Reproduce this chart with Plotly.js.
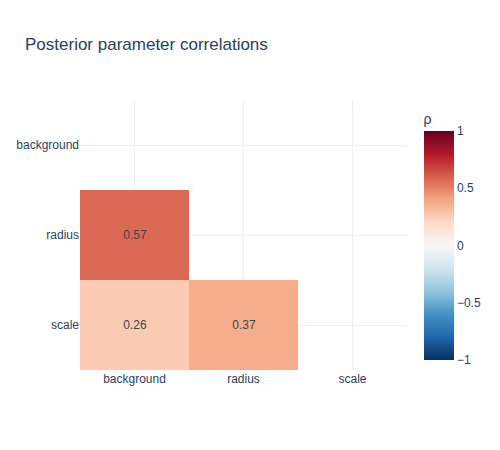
<!DOCTYPE html>
<html><head><meta charset="utf-8">
<script src="https://cdn.plot.ly/plotly-3.0.1.min.js"></script>
<style>body{margin:0;}</style>
</head><body>
<div id="chart" style="width:500px;height:450px;"></div>
<script>
const params = ["background", "radius", "scale"];
const corrBackground = [null, null, null];
const corrRadius = [0.57, null, null];
const corrScale = [0.26, 0.37, null];
const colorTickVals = [-1, -0.5, 0, 0.5, 1];
const colorTickText = ["\u22121", "\u22120.5", "0", "0.5", "1"];

const rdbu = ["rgb(5,48,97)","rgb(33,102,172)","rgb(67,147,195)","rgb(146,197,222)","rgb(209,229,240)","rgb(247,247,247)","rgb(253,219,199)","rgb(244,165,130)","rgb(214,96,77)","rgb(178,24,43)","rgb(103,0,31)"];
const colorscale = rdbu.map((c, i) => [i / (rdbu.length - 1), c]);

const trace = {
  type: "heatmap",
  x: params,
  y: params,
  z: [corrBackground, corrRadius, corrScale],
  zmin: -1, zmax: 1,
  colorscale: colorscale,
  texttemplate: "%{z:.2f}",
  textfont: {color: "#444", size: 12},
  hoverongaps: false,
  colorbar: {
    title: {text: "\u03c1"},
    tickvals: colorTickVals,
    ticktext: colorTickText,
    outlinewidth: 0,
    thickness: 30,
    len: 1
  }
};

const layout = {
  width: 500, height: 450,
  title: {text: "Posterior parameter correlations", x: 0.05, font: {size: 17, color: "#2a3f5f"}},
  font: {family: "'Liberation Sans', Arial, sans-serif", size: 12, color: "#2a3f5f"},
  paper_bgcolor: "white",
  plot_bgcolor: "white",
  xaxis: {gridcolor: "#EBF0F8", zeroline: false, showline: false, ticks: ""},
  yaxis: {autorange: "reversed", gridcolor: "#EBF0F8", zeroline: false, showline: false, ticks: ""},
  margin: {l: 80, r: 80, t: 100, b: 80}
};

Plotly.newPlot("chart", [trace], layout, {displayModeBar: false});
</script>
</body></html>
